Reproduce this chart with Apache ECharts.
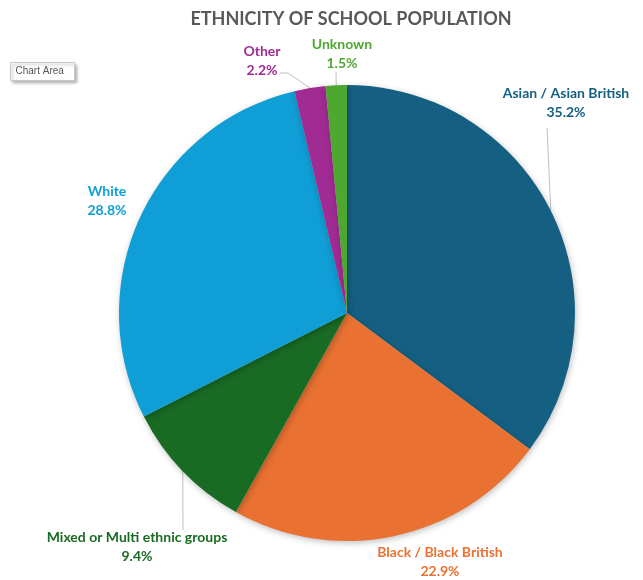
<!DOCTYPE html>
<html>
<head>
<meta charset="utf-8">
<script src="https://cdn.jsdelivr.net/npm/echarts@6/dist/echarts.min.js"></script>
<style>
  html, body {margin: 0; padding: 0; background: #fff;}
  #chart {width: 643px; height: 580px;}
</style>
</head>
<body>
<div id="chart"></div>
<script>
// 数据
const categories = ['Asian / Asian British', 'Black / Black British', 'Mixed or Multi ethnic groups', 'White', 'Other', 'Unknown'];
const shares = [35.2, 22.9, 9.4, 28.8, 2.2, 1.5];
const colors = ['#156082', '#E97132', '#196B24', '#0F9ED5', '#A02B93', '#4EA72E'];
const showLine = [true, false, true, false, true, true];

// label centre positions and leader-line end points (layout only)
const labelPos = [[566, 103], [440, 562], [137, 547], [107, 201], [262, 61], [342, 54]];
const lineEnd = [[547, 128], null, [183, 530], null, [[288, 73], [280, 73]], [336, 72]];

const myChart = echarts.init(document.getElementById('chart'));
myChart.setOption({
  animation: false,
  title: {
    text: 'ETHNICITY OF SCHOOL POPULATION',
    left: 346,
    top: 5,
    textAlign: 'center',
    textStyle: {fontFamily: 'Lato', fontWeight: 'bold', fontSize: 18, color: '#595959'}
  },
  graphic: [{
    type: 'group',
    left: 10,
    top: 62,
    children: [{
      type: 'rect',
      shape: {x: 0, y: 0, width: 64, height: 18},
      style: {fill: '#fff', stroke: '#c8c8c8', lineWidth: 1, shadowBlur: 3, shadowOffsetX: 2, shadowOffsetY: 2, shadowColor: 'rgba(0,0,0,0.3)'}
    }, {
      type: 'text',
      x: 5, y: 4,
      style: {text: 'Chart Area', fontSize: 10, fontFamily: 'Liberation Sans', fill: '#555'}
    }]
  }],
  series: [{
    type: 'pie',
    center: [347, 313],
    radius: 228,
    startAngle: 90,
    clockwise: true,
    data: categories.map((name, i) => ({
      name,
      value: shares[i],
      itemStyle: {color: colors[i]},
      labelLine: {show: showLine[i]}
    })),
    itemStyle: {
      borderWidth: 0,
      shadowBlur: 6,
      shadowOffsetX: 1,
      shadowOffsetY: 2,
      shadowColor: 'rgba(0,0,0,0.25)'
    },
    label: {
      show: true,
      position: 'outside',
      formatter: (p) => p.name + '\n' + p.value.toFixed(1) + '%',
      color: 'inherit',
      fontFamily: 'Lato',
      fontWeight: 'bold',
      fontSize: 14,
      lineHeight: 19,
      align: 'center',
      overflow: 'none'
    },
    labelLine: {
      show: true,
      lineStyle: {color: '#bfbfbf', width: 1}
    },
    labelLayout: (params) => {
      const i = params.dataIndex;
      const res = {x: labelPos[i][0], y: labelPos[i][1], align: 'center', verticalAlign: 'middle', width: 300};
      const end = lineEnd[i];
      if (end && params.labelLinePoints) {
        const p0 = params.labelLinePoints[0];
        if (Array.isArray(end[0])) {
          res.labelLinePoints = [p0, end[0], end[1]];
        } else {
          res.labelLinePoints = [p0, [(p0[0] + end[0]) / 2, (p0[1] + end[1]) / 2], end];
        }
      }
      return res;
    }
  }]
});
</script>
</body>
</html>
